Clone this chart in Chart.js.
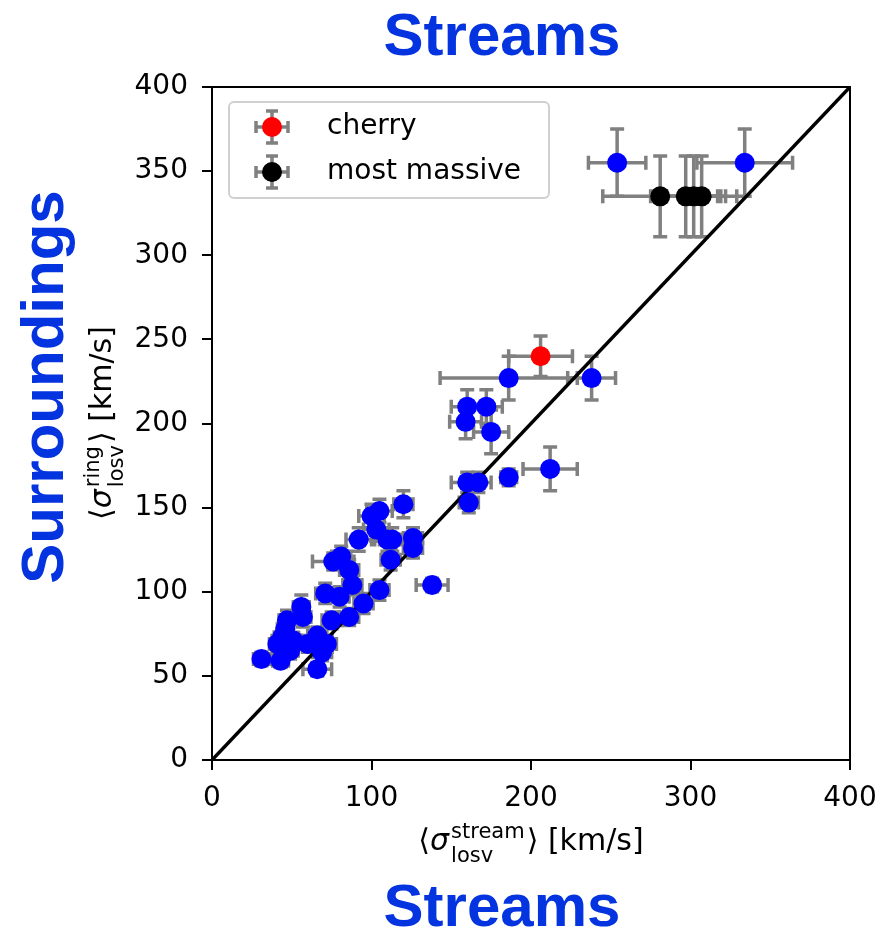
<!DOCTYPE html>
<html>
<head>
<meta charset="utf-8">
<script src="https://cdn.jsdelivr.net/npm/chart.js@4"></script>
<style>
  body { margin: 0; background: #fff; }
  #wrap { width: 889px; height: 932px; position: relative; }
</style>
</head>
<body>
<div id="wrap"><canvas id="chart"></canvas></div>
<script>
  // values, km/s
  const streamX = [254, 334, 186, 238, 160, 172, 159, 175, 212, 186, 160, 167, 161, 120, 100, 105, 103, 92, 110, 113,
    126, 126, 112, 76, 81, 86, 88, 71, 80, 105, 95, 138, 86, 75, 56, 57, 47, 46, 44, 51, 41, 60, 66, 72, 69, 49, 43, 31, 66];
  const streamY = [355, 355, 227, 227, 210, 210, 201, 195, 173, 168, 165, 165, 153, 152, 145, 148, 137, 131, 131, 131,
    132, 126, 119, 118, 121, 113, 104, 99, 97, 101, 93, 104, 85, 83, 91, 85, 83, 78, 73, 71, 69, 69, 74, 69, 64, 65, 59, 60, 54];
  const streamErrX = [18, 30, 43, 15, 10, 10, 10, 11, 17, 5, 10, 8, 6, 6, 8, 8, 8, 8, 8, 8,
    6, 6, 6, 13, 6, 6, 6, 6, 6, 6, 6, 10, 6, 6, 5, 5, 5, 5, 5, 5, 5, 5, 6, 6, 6, 5, 5, 5, 9];
  const streamErrY = [20, 20, 13, 13, 10, 10, 10, 13, 13, 5, 6, 6, 6, 8, 7, 7, 7, 7, 7, 7,
    6, 6, 6, 5, 6, 6, 6, 6, 6, 6, 6, 4, 5, 5, 7, 6, 6, 6, 5, 5, 5, 5, 5, 5, 5, 5, 4, 4, 4];

  const cherryX = [206];
  const cherryY = [240];
  const cherryErrX = [20];
  const cherryErrY = [12];

  const massiveX = [281, 297, 302, 307];
  const massiveY = [335, 335, 335, 335];
  const massiveErrX = [36, 22, 20, 22];
  const massiveErrY = [24, 24, 24, 24];

  const oneToOne = [0, 400];
  const axisMin = 0, axisMax = 400;
  const xStep = 100, yStep = 50;

  const barColor = '#808080';
  const titleBlue = '#0433e0';

  const toPoints = (xs, ys) => xs.map((v, i) => ({ x: v, y: ys[i] }));

  function cross(ctx, px, py, x0, x1, y0, y1, cap) {
    ctx.beginPath();
    ctx.moveTo(x0, py); ctx.lineTo(x1, py);
    ctx.moveTo(px, y0); ctx.lineTo(px, y1);
    ctx.moveTo(x0, py - cap); ctx.lineTo(x0, py + cap);
    ctx.moveTo(x1, py - cap); ctx.lineTo(x1, py + cap);
    ctx.moveTo(px - cap, y0); ctx.lineTo(px + cap, y0);
    ctx.moveTo(px - cap, y1); ctx.lineTo(px + cap, y1);
    ctx.stroke();
  }

  // error bars go under everything
  const errorBars = {
    id: 'errorBars',
    beforeDatasetsDraw(chart) {
      const { ctx, scales: { x, y } } = chart;
      ctx.save();
      ctx.strokeStyle = barColor;
      ctx.lineWidth = 3.5;
      chart.data.datasets.forEach(ds => {
        if (!ds.errX) return;
        ds.data.forEach((p, i) => {
          cross(ctx,
            x.getPixelForValue(p.x), y.getPixelForValue(p.y),
            x.getPixelForValue(p.x - ds.errX[i]), x.getPixelForValue(p.x + ds.errX[i]),
            y.getPixelForValue(p.y + ds.errY[i]), y.getPixelForValue(p.y - ds.errY[i]), 7);
        });
      });
      ctx.restore();
    }
  };

  function mathTitle(ctx, sup, cx, base) {
    const big = '30px "DejaVu Sans"', bigIt = 'italic 30px "DejaVu Sans"', small = '21px "DejaVu Sans"';
    const w = (f, t) => { ctx.font = f; return ctx.measureText(t).width; };
    const wOpen = w(big, '⟨'), wSig = w(bigIt, 'σ');
    const wStack = Math.max(w(small, sup), w(small, 'losv'));
    const wClose = w(big, '⟩ [km/s]');
    let xx = cx - (wOpen + wSig + wStack + wClose + 4) / 2;
    ctx.textAlign = 'left';
    ctx.textBaseline = 'alphabetic';
    ctx.fillStyle = '#000';
    ctx.font = big; ctx.fillText('⟨', xx, base); xx += wOpen;
    ctx.font = bigIt; ctx.fillText('σ', xx, base); xx += wSig + 2;
    ctx.font = small;
    ctx.fillText(sup, xx, base - 12);
    ctx.fillText('losv', xx, base + 12);
    xx += wStack + 2;
    ctx.font = big; ctx.fillText('⟩ [km/s]', xx, base);
  }

  const decorations = {
    id: 'decorations',
    afterDatasetsDraw(chart) {
      const { ctx, chartArea: a } = chart;
      ctx.save();
      ctx.strokeStyle = '#000';
      ctx.lineWidth = 2;
      ctx.strokeRect(a.left, a.top, a.right - a.left, a.bottom - a.top);
      ctx.restore();
    },
    afterDraw(chart) {
      const { ctx, chartArea: a } = chart;
      ctx.save();

      // legend
      const lx = a.left + 17, ly = a.top + 15;
      ctx.beginPath();
      ctx.roundRect(lx, ly, 320, 96, 5);
      ctx.fillStyle = 'rgba(255,255,255,0.85)';
      ctx.fill();
      ctx.strokeStyle = '#d0d0d0';
      ctx.lineWidth = 2;
      ctx.stroke();
      const entries = chart.data.datasets.filter(d => d.inLegend);
      entries.forEach((d, i) => {
        const mx = lx + 43, my = ly + 25 + i * 45;
        ctx.strokeStyle = barColor;
        ctx.lineWidth = 3.5;
        cross(ctx, mx, my, mx - 16, mx + 16, my - 16, my + 16, 6);
        ctx.beginPath();
        ctx.arc(mx, my, 10, 0, Math.PI * 2);
        ctx.fillStyle = d.backgroundColor;
        ctx.fill();
        ctx.fillStyle = '#000';
        ctx.font = '28px "DejaVu Sans"';
        ctx.textAlign = 'left';
        ctx.textBaseline = 'middle';
        ctx.fillText(d.label, lx + 98, my);
      });

      // axis titles
      mathTitle(ctx, 'stream', (a.left + a.right) / 2, 850);
      ctx.save();
      ctx.translate(111, 423);
      ctx.rotate(-Math.PI / 2);
      mathTitle(ctx, 'ring', 0, 0);
      ctx.restore();

      // big blue labels
      ctx.fillStyle = titleBlue;
      ctx.font = 'bold 60px "Liberation Sans"';
      ctx.textAlign = 'center';
      ctx.textBaseline = 'alphabetic';
      ctx.fillText('Streams', 502, 55);
      ctx.fillText('Streams', 502, 926);
      ctx.translate(63, 387);
      ctx.rotate(-Math.PI / 2);
      ctx.fillText('Surroundings', 0, 0);

      ctx.restore();
    }
  };

  const tickFont = { family: 'DejaVu Sans', size: 28 };

  new Chart(document.getElementById('chart'), {
    type: 'scatter',
    data: {
      datasets: [
        {
          type: 'line',
          data: toPoints(oneToOne, oneToOne),
          borderColor: '#000',
          borderWidth: 3.5,
          pointRadius: 0,
          order: 5
        },
        {
          label: 'streams',
          data: toPoints(streamX, streamY),
          errX: streamErrX, errY: streamErrY,
          backgroundColor: '#0000ff',
          pointRadius: 10, borderWidth: 0,
          order: 3
        },
        {
          label: 'cherry',
          inLegend: true,
          data: toPoints(cherryX, cherryY),
          errX: cherryErrX, errY: cherryErrY,
          backgroundColor: '#ff0000',
          pointRadius: 10, borderWidth: 0,
          order: 2
        },
        {
          label: 'most massive',
          inLegend: true,
          data: toPoints(massiveX, massiveY),
          errX: massiveErrX, errY: massiveErrY,
          backgroundColor: '#000000',
          pointRadius: 10, borderWidth: 0,
          order: 1
        }
      ]
    },
    options: {
      responsive: true,
      maintainAspectRatio: false,
      animation: false,
      layout: { padding: { left: 0, top: 87, right: 39, bottom: 0 } },
      plugins: { legend: { display: false }, tooltip: { enabled: false } },
      scales: {
        x: {
          type: 'linear', min: axisMin, max: axisMax,
          afterFit(s) { s.height = 172; },
          ticks: { stepSize: xStep, color: '#000', font: tickFont, padding: 12, maxRotation: 0 },
          grid: { drawOnChartArea: false, tickLength: 10, color: '#000', lineWidth: 2 },
          border: { color: '#000', width: 2 }
        },
        y: {
          type: 'linear', min: axisMin, max: axisMax,
          afterFit(s) { s.width = 212; },
          ticks: { stepSize: yStep, color: '#000', font: tickFont, padding: 14 },
          grid: { drawOnChartArea: false, tickLength: 10, color: '#000', lineWidth: 2 },
          border: { color: '#000', width: 2 }
        }
      }
    },
    plugins: [errorBars, decorations]
  });
</script>
</body>
</html>
